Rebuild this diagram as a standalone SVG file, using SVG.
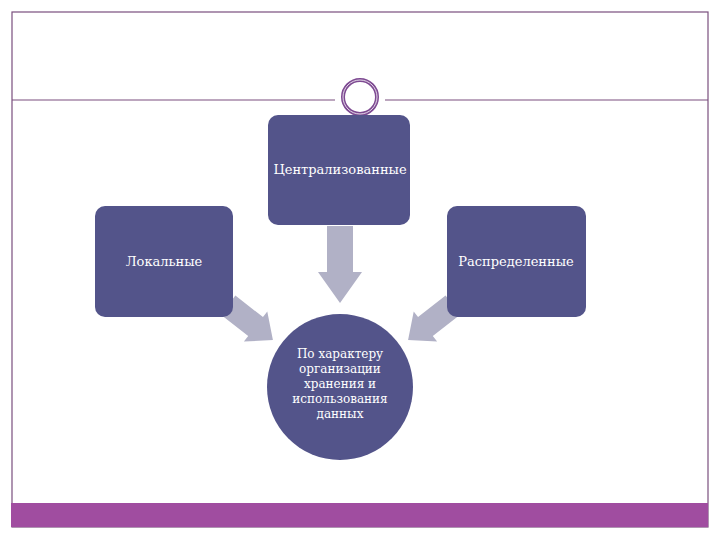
<svg xmlns="http://www.w3.org/2000/svg" width="720" height="540" viewBox="0 0 720 540">
<style>
.node{fill:#53548a;}
.lbl{fill:#ffffff;font-family:"DejaVu Serif","Liberation Serif",serif;font-size:13px;text-anchor:middle;}
.sm{font-size:12px;}
.arr{fill:#b1b1c6;}
.frame{fill:none;stroke:#7a4f7e;stroke-width:1.2;}
</style>
<rect width="720" height="540" fill="#ffffff"/>
<g id="frame">
<rect class="frame" x="12" y="12" width="696" height="515"/>
<line x1="12" y1="100" x2="335" y2="100" stroke="#7a4f7e" stroke-width="1.2"/>
<line x1="385" y1="100" x2="708" y2="100" stroke="#7a4f7e" stroke-width="1.2"/>
<circle cx="360" cy="97" r="17" fill="#ffffff" stroke="#7e4a92" stroke-width="4"/>
<circle cx="360" cy="97" r="17" fill="none" stroke="#ffffff" stroke-width="0.8"/>
<rect x="11" y="503" width="697" height="24" fill="#a04da0"/>
</g>
<g id="connectors">
<polygon class="arr" points="327,226 353,226 353,272 362,272 340,303 318,272 327,272"/>
<g transform="translate(228,305) rotate(38)">
<polygon class="arr" points="0,-12 35,-12 35,-19 57,0 35,19 35,12 0,12"/>
</g>
<g transform="translate(453,305) rotate(142)">
<polygon class="arr" points="0,-12 35,-12 35,-19 57,0 35,19 35,12 0,12"/>
</g>
</g>
<g id="node-central">
<rect class="node" x="268" y="115" width="142" height="110" rx="10"/>
<text class="lbl" x="340" y="174">Централизованные</text>
</g>
<g id="node-local">
<rect class="node" x="95" y="206" width="138" height="111" rx="10"/>
<text class="lbl" x="164" y="266">Локальные</text>
</g>
<g id="node-distributed">
<rect class="node" x="447" y="206" width="139" height="111" rx="10"/>
<text class="lbl" x="516" y="266">Распределенные</text>
</g>
<g id="node-center">
<circle class="node" cx="340" cy="387" r="73"/>
<text class="lbl sm" x="340" y="358">По характеру</text>
<text class="lbl sm" x="340" y="373">организации</text>
<text class="lbl sm" x="340" y="388">хранения и</text>
<text class="lbl sm" x="340" y="403">использования</text>
<text class="lbl sm" x="340" y="418">данных</text>
</g>
</svg>
